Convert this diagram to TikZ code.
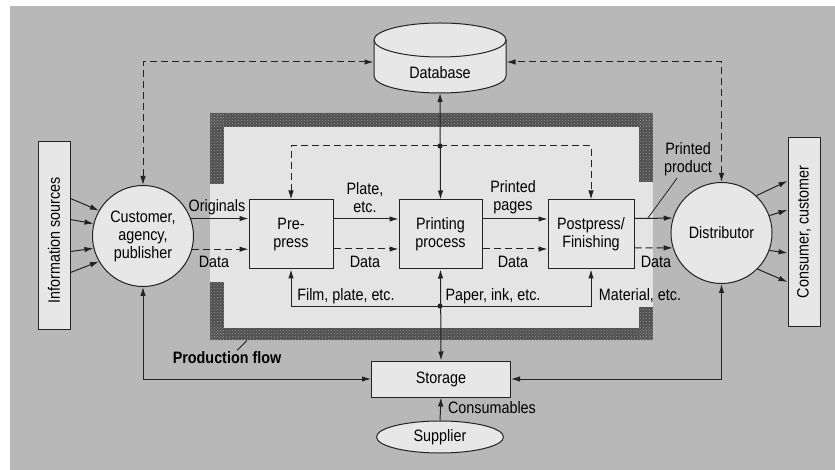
\documentclass[tikz,border=0pt]{standalone}
\usepackage{fontspec}
\setmainfont{Liberation Sans}[FakeStretch=0.87]
\usetikzlibrary{arrows.meta,shapes.geometric,calc,patterns}
\definecolor{bggray}{RGB}{184,184,184}
\definecolor{lightarea}{RGB}{228,228,228}
\definecolor{boxfill}{RGB}{231,231,231}
\definecolor{hatchc}{RGB}{78,78,78}
\definecolor{linec}{RGB}{35,35,35}
\begin{document}
\begin{tikzpicture}[x=1pt,y=-1pt,
  font=\fontsize{16.5}{18}\selectfont,
  line width=1pt,
  >={Latex[length=9pt,width=5.5pt]},
  box/.style={draw=linec, fill=boxfill, rectangle, inner sep=0pt, align=center},
  circ/.style={draw=linec, fill=boxfill, circle, inner sep=0pt, minimum size=101pt, align=center},
  flow/.style={draw=linec},
  dflow/.style={draw=linec, dash pattern=on 7pt off 4pt},
  lbl/.style={inner sep=0pt, align=center},
  hatch/.style={fill=hatchc, draw=none},
  dot/.style={circle, fill=linec, inner sep=0pt, minimum size=5pt}
]
\useasboundingbox (0,0) rectangle (835,470);
% background
\fill[white] (0,0) rectangle (835,470);
\fill[bggray] (10,6) rectangle (835,470);
% production area
\fill[lightarea] (210,113) rectangle (653,340);
\fill[hatch] (210,113) rectangle (653,127);
\fill[hatch] (210,113) rectangle (224,184);
\fill[hatch] (210,282) rectangle (224,340);
\fill[hatch] (210,328) rectangle (653,340);
\fill[hatch] (639,113) rectangle (653,182);
\fill[hatch] (639,307) rectangle (653,340);
\begin{scope}[pattern=crosshatch dots, pattern color=gray!80]
\fill (210,113) rectangle (653,127);
\fill (210,113) rectangle (224,184);
\fill (210,282) rectangle (224,340);
\fill (210,328) rectangle (653,340);
\fill (639,113) rectangle (653,182);
\fill (639,307) rectangle (653,340);
\end{scope}

% database cylinder
\filldraw[draw=linec, fill=boxfill] (374,40) -- (374,76)
  arc[start angle=180, end angle=360, x radius=66pt, y radius=17pt]
  -- (506,40)
  arc[start angle=0, end angle=180, x radius=66pt, y radius=17pt] -- cycle;
\draw[linec] (374,40) arc[start angle=180, end angle=360, x radius=66pt, y radius=17pt];
\node[inner sep=0pt, minimum width=132pt, minimum height=70pt] (db) at (440,62) {};
\node[lbl] (dbtext) at (440,73) {Database};
\coordinate (dbb) at (440,93);

% nodes
\node[box, minimum width=32pt, minimum height=187pt] (info) at (54,235.5) {};
\node[lbl, rotate=90] (infotext) at (54,240) {Information sources};
\node[box, minimum width=32pt, minimum height=188pt] (cons) at (804,232) {};
\node[lbl, rotate=90] (constext) at (804,232) {Consumer, customer};
\node[circ] (cust) at (143,236) {Customer,\\agency,\\publisher};
\node[circ] (dist) at (721.5,233) {Distributor};
\node[box, minimum width=84pt, minimum height=69pt] (pre) at (291,234.5) {Pre-\\press};
\node[box, minimum width=83pt, minimum height=69pt] (print) at (440.5,234.5) {Printing\\process};
\node[box, minimum width=86pt, minimum height=69pt] (post) at (591,234.5) {Postpress/\\Finishing};
\node[box, minimum width=139pt, minimum height=36pt] (store) at (441,379) {Storage};
\node[draw=linec, fill=boxfill, ellipse, inner sep=0pt, minimum width=127pt, minimum height=32pt] (supp) at (440,437) {Supplier};

% junctions
\coordinate (jtop) at (440,146);
\coordinate (jbot) at (440,306);

% info arrows
\draw[flow,->] ([yshift=37pt]info.east) -- (cust.150);
\draw[flow,->] ([yshift=16pt]info.east) -- (cust.166);
\draw[flow,->] ([yshift=-16pt]info.east) -- (cust.194);
\draw[flow,->] ([yshift=-37pt]info.east) -- (cust.210);

% distributor arrows
\draw[flow,->] (dist.47) -- ([yshift=51pt]cons.west);
\draw[flow,->] (dist.20) -- ([yshift=22pt]cons.west);
\draw[flow,->] (dist.-20) -- ([yshift=-21pt]cons.west);
\draw[flow,->] (dist.-45) -- ([yshift=-50pt]cons.west);

% main flow
\draw[flow,->] (cust.20) -- (cust.20 -| pre.west);
\draw[dflow,->] (cust.-15) -- (cust.-15 -| pre.west);
\draw[flow,->] ([yshift=15.5pt]pre.east) -- ([yshift=15.5pt]print.west);
\draw[dflow,->] ([yshift=-14.5pt]pre.east) -- ([yshift=-14.5pt]print.west);
\draw[flow,->] ([yshift=15.5pt]print.east) -- ([yshift=15.5pt]post.west);
\draw[dflow,->] ([yshift=-14.5pt]print.east) -- ([yshift=-14.5pt]post.west);
\draw[flow,->] ([yshift=16pt]post.east) -- (dist.163);
\draw[dflow,->] ([yshift=-13.5pt]post.east) -- (dist.197);

% database links
\draw[dflow,<->] (cust.north) |- (db.west);
\draw[dflow,<->] (dist.north) |- (db.east);
\draw[flow,<->] (dbb) -- (print.north);
\draw[dflow,->] (jtop) -| (pre.north);
\draw[dflow,->] (jtop) -| (post.north);
\node[dot] (jtopdot) at (jtop) {};

% storage links
\draw[flow,<->] (print.south) -- (store.north);
\draw[flow,->] (jbot) -| (pre.south);
\draw[flow,->] (jbot) -| (post.south);
\node[dot] (jbotdot) at (jbot) {};
\draw[flow,<->] (cust.south) |- (store.west);
\draw[flow,<->] (dist.south) |- (store.east);
\draw[flow,->] (supp.north) -- (store.south);

% labels
\node[lbl] (lorig) at (217,207) {Originals};
\node[lbl] (ld1) at (214,262) {Data};
\node[lbl] (lplate) at (365,198) {Plate,\\etc.};
\node[lbl] (ld2) at (365,262) {Data};
\node[lbl] (lpages) at (513,197) {Printed\\pages};
\node[lbl] (ld3) at (513,262) {Data};
\node[lbl] (pp) at (688,159) {Printed\\product};
\node[lbl] (ld4) at (656,262) {Data};
\node[lbl] (lfilm) at (346,296) {Film, plate, etc.};
\node[lbl] (lpaper) at (493,296) {Paper, ink, etc.};
\node[lbl] (lmat) at (640,296) {Material, etc.};
\node[lbl] (lcons) at (492,408) {Consumables};
\node[lbl, font=\fontsize{16.5}{18}\selectfont\bfseries] (pf) at (227,358) {Production flow};

% leaders
\coordinate (ppl) at (648,218);
\draw[flow, line width=0.8pt] (ppl) -- ([xshift=-11pt,yshift=-2pt]pp.south);
\draw[flow, line width=0.8pt] ([xshift=10pt,yshift=1pt]pf.north) -- ++(10,-10);
\end{tikzpicture}
\end{document}
